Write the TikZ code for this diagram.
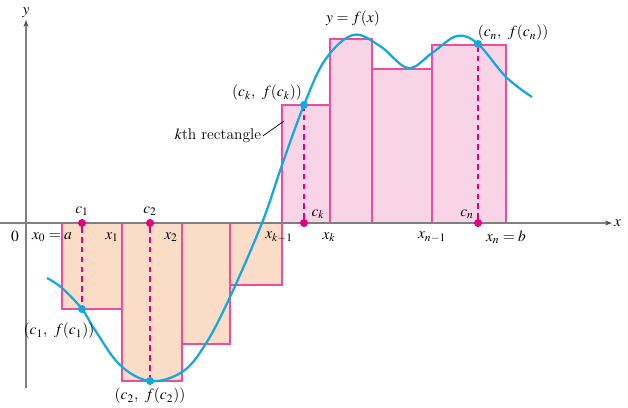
\documentclass[tikz,border=0pt]{standalone}
\usepackage{mathptmx}
\usetikzlibrary{arrows.meta}
\definecolor{curvecol}{HTML}{12A8E0}
\definecolor{rimcol}{HTML}{EE4D9B}
\definecolor{dashcol}{HTML}{E5007D}
\definecolor{negfill}{HTML}{FBDCC6}
\definecolor{posfill}{HTML}{F9D4E6}
\definecolor{axiscol}{HTML}{7F7F7F}
\tikzset{
  axis/.style={draw=axiscol, line width=1pt, -{Stealth[length=5pt,width=3.5pt,color=black!70]}},
  negrect/.style={fill=negfill, draw=rimcol, line width=0.8pt},
  posrect/.style={fill=posfill, draw=rimcol, line width=0.8pt},
  axdot/.style={circle, fill=dashcol, inner sep=0pt, minimum size=5.5pt},
  cvdot/.style={circle, fill=curvecol, inner sep=0pt, minimum size=5.5pt},
  sample/.style={draw=dashcol, line width=1.3pt, dash pattern=on 4pt off 3pt},
  lab/.style={inner sep=1pt, font=\fontsize{11}{13}\selectfont}
}
\begin{document}
\begin{tikzpicture}[x=0.025cm, y=-0.025cm]
\useasboundingbox (0,0) rectangle (628,407);
% rectangles below the axis
\draw[negrect] (62,223) rectangle (122,309);
\draw[negrect] (122,223) rectangle (182,381);
\draw[negrect] (182,223) rectangle (230,344);
\draw[negrect] (230,223) rectangle (282,285);
% rectangles above the axis
\draw[posrect] (282,223) rectangle (330,105);
\draw[posrect] (330,223) rectangle (372,39);
\draw[posrect] (372,223) rectangle (432,69);
\draw[posrect] (432,223) rectangle (506,45);
% axes
\coordinate (xstart) at (0,223);
\coordinate (xend) at (612,223);
\coordinate (ystart) at (26,388);
\coordinate (yend) at (26,20);
\draw[axis] (xstart) -- (xend) node[lab, right] (xlab) {$x$};
\draw[axis] (ystart) -- (yend) node[lab, above] (ylab) {$y$};
% sample points
\node[axdot] (c1) at (82,223) {};
\node[axdot] (c2) at (150,223) {};
\node[axdot] (ck) at (304,223) {};
\node[axdot] (cn) at (478,223) {};
\node[cvdot] (p1) at (82,309) {};
\node[cvdot] (p2) at (150,381) {};
\node[cvdot] (pk) at (304,105) {};
\node[cvdot] (pn) at (478,44) {};
\draw[sample] (c1) -- (p1);
\draw[sample] (c2) -- (p2);
\draw[sample] (ck) -- (pk);
\draw[sample] (cn) -- (pn);
% the curve
\draw[curvecol, line width=1.6pt] plot[smooth, tension=0.6] coordinates {
  (47,278) (62,288) (82,309) (95,330) (120,365) (150,381) (182,372)
  (205,345) (230,297) (262,223) (282,165) (304,105) (325,60) (353,35)
  (380,46) (408,68) (432,53) (457,36) (478,44) (506,77) (532,97)};
\node[cvdot] at (p1) {};
\node[cvdot] at (p2) {};
\node[cvdot] at (pk) {};
\node[cvdot] at (pn) {};
\node[axdot] at (c1) {};
\node[axdot] at (c2) {};
\node[axdot] at (ck) {};
\node[axdot] at (cn) {};
% labels
\node[lab] (zero) at (15,236) {$0$};
\node[lab] (x0) at (52,237) {$x_0 = a$};
\node[lab] (x1) at (112,237) {$x_1$};
\node[lab] (x2) at (171,237) {$x_2$};
\node[lab] (xkm) at (279,237) {$x_{k-1}$};
\node[lab] (xk) at (329,237) {$x_k$};
\node[lab] (xnm) at (432,237) {$x_{n-1}$};
\node[lab] (xn) at (506,237) {$x_n = b$};
\node[lab] (c1lab) at (82,211) {$c_1$};
\node[lab] (c2lab) at (150,211) {$c_2$};
\node[lab] (cklab) at (318,214) {$c_k$};
\node[lab] (cnlab) at (467,214) {$c_n$};
\node[lab] (p1lab) at (59,331) {$(c_1,\ f(c_1))$};
\node[lab] (p2lab) at (150,396) {$(c_2,\ f(c_2))$};
\node[lab] (pklab) at (267,93) {$(c_k,\ f(c_k))$};
\node[lab] (pnlab) at (513,33) {$(c_n,\ f(c_n))$};
\node[lab] (flab) at (353,19) {$y = f(x)$};
\node[lab] (kth) at (218,136) {$k$th rectangle};
\coordinate (kthend) at (284,121);
\draw[line width=0.5pt] (kth.east) -- (kthend);
\end{tikzpicture}
\end{document}
